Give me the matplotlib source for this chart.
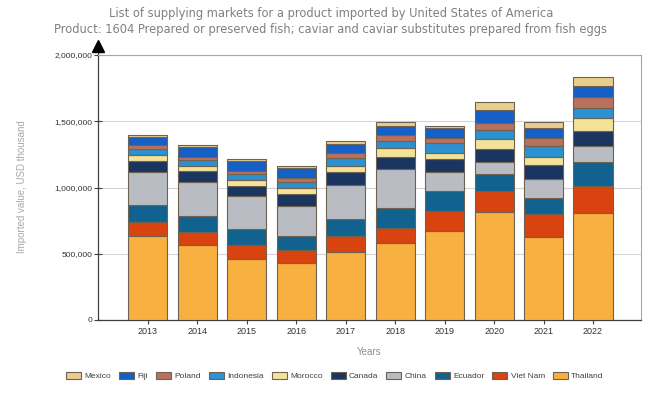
import numpy as np
import matplotlib.pyplot as plt
from matplotlib.ticker import FuncFormatter

# values, USD thousand
years = ['2013', '2014', '2015', '2016', '2017', '2018', '2019', '2020', '2021', '2022']
thailand = [636, 568, 463, 428, 515, 579, 669, 813, 629, 805]
viet_nam = [101, 98, 101, 100, 121, 113, 155, 163, 169, 206]
ecuador = [128, 121, 121, 106, 126, 156, 149, 124, 125, 179]
china = [249, 257, 249, 229, 257, 292, 141, 91, 141, 125]
canada = [88, 83, 78, 88, 100, 93, 98, 100, 106, 113]
morocco = [43, 38, 45, 43, 45, 63, 50, 75, 63, 94]
indonesia = [43, 43, 45, 45, 56, 55, 71, 68, 83, 80]
poland = [30, 25, 25, 30, 38, 45, 38, 55, 56, 78]
fiji = [65, 75, 71, 75, 70, 70, 75, 96, 75, 88]
mexico = [15, 15, 17, 20, 23, 28, 20, 63, 48, 68]

# bottom to top
series = [
    ('Thailand', thailand, '#f8b040'),
    ('Viet Nam', viet_nam, '#d9430f'),
    ('Ecuador', ecuador, '#11628e'),
    ('China', china, '#b9bcc2'),
    ('Canada', canada, '#1b3561'),
    ('Morocco', morocco, '#f3e297'),
    ('Indonesia', indonesia, '#2b91d0'),
    ('Poland', poland, '#b9705c'),
    ('Fiji', fiji, '#1460c6'),
    ('Mexico', mexico, '#e9cf8e'),
]

fig = plt.figure(figsize=(6.6, 3.99), dpi=100)
ax = fig.add_axes([98/660, 1 - 320/399, (641 - 98)/660, (320 - 55)/399])

x = np.arange(len(years))
bottom = np.zeros(len(years))
handles = []
for name, vals, col in series:
    v = np.array(vals) * 1000.0
    b = ax.bar(x, v, 0.79, bottom=bottom, color=col, edgecolor='#6e6352',
               linewidth=0.8, label=name, zorder=3)
    handles.append(b)
    bottom += v

ax.set_xlim(-1.01, 9.97)
ax.set_ylim(0, 2000000)
ax.set_yticks([0, 500000, 1000000, 1500000, 2000000])
ax.yaxis.set_major_formatter(FuncFormatter(lambda v, p: f'{int(v):,}'))
ax.set_xticks(x)
ax.set_xticklabels(years)
ax.grid(axis='y', color='#d4d4d4', linewidth=0.8, zorder=0)

for s in ['top', 'right']:
    ax.spines[s].set_color('#a8a8a8')
    ax.spines[s].set_linewidth(0.8)
for s in ['left', 'bottom']:
    ax.spines[s].set_color('#404040')
    ax.spines[s].set_linewidth(0.9)

ax.tick_params(axis='y', direction='inout', length=6, width=0.8, colors='#404040',
               labelsize=6, pad=1)
ax.tick_params(axis='x', direction='out', length=3, width=0.8, colors='#404040',
               labelsize=6.5, pad=2)
for lab in ax.get_xticklabels() + ax.get_yticklabels():
    lab.set_family('Liberation Sans')
    lab.set_color('#333333')

# arrow on top of y axis
ax.plot([0, 0], [1, 1.03], transform=ax.transAxes, color='#404040', lw=0.9, clip_on=False)
ax.plot(0, 1.035, marker='^', markersize=9, color='black', transform=ax.transAxes,
        clip_on=False)

ax.set_xlabel('Years', fontsize=7, color='#909090', family='Liberation Sans', labelpad=8)
fig.text(22/660, 1 - 187/399, 'Imported value, USD thousand', rotation=90,
         ha='center', va='center', fontsize=7, color='#a8a8a8', family='Liberation Sans')

fig.text(331/660, 1 - 14/399,
         'List of supplying markets for a product imported by United States of America',
         ha='center', va='center', fontsize=8.3, color='#808080')
fig.text(331/660, 1 - 29/399,
         'Product: 1604 Prepared or preserved fish; caviar and caviar substitutes prepared from fish eggs',
         ha='center', va='center', fontsize=8.3, color='#808080')

leg = fig.legend(handles[::-1], [s[0] for s in series][::-1], loc='center',
                 bbox_to_anchor=(335/660, 1 - 376/399), ncol=10, frameon=False,
                 prop={'family': 'Liberation Sans', 'size': 6},
                 handlelength=1.8, handleheight=0.9, handletextpad=0.4,
                 columnspacing=0.95)
for t in leg.get_texts():
    t.set_color('#404040')

fig.savefig('out.png', dpi=100)
